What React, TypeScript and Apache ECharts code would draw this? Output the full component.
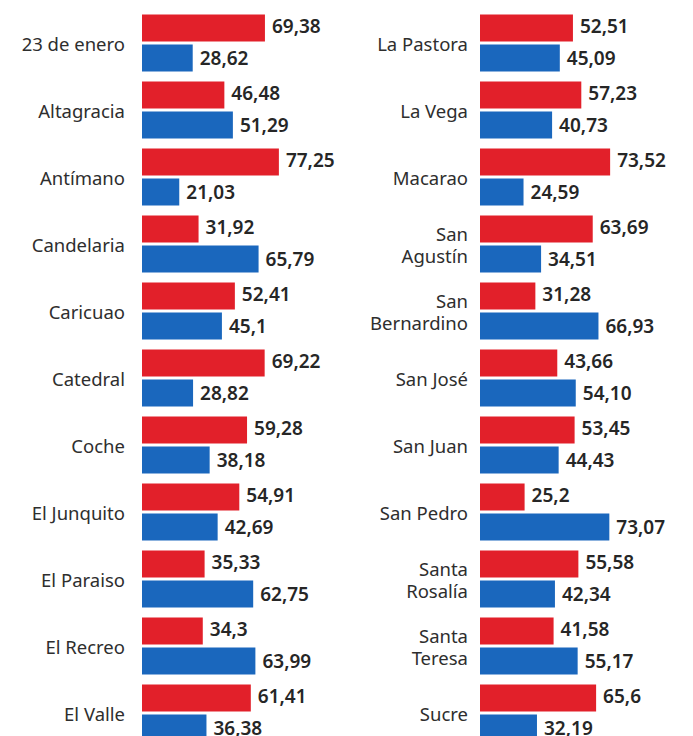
import React, { useEffect, useRef } from "react";
import * as echarts from "echarts";

const leftCategories = [
  "23 de enero", "Altagracia", "Antímano", "Candelaria", "Caricuao", "Catedral",
  "Coche", "El Junquito", "El Paraiso", "El Recreo", "El Valle",
];
const leftRed = [69.38, 46.48, 77.25, 31.92, 52.41, 69.22, 59.28, 54.91, 35.33, 34.3, 61.41];
const leftBlue = [28.62, 51.29, 21.03, 65.79, 45.1, 28.82, 38.18, 42.69, 62.75, 63.99, 36.38];
const leftRedText = ["69,38", "46,48", "77,25", "31,92", "52,41", "69,22", "59,28", "54,91", "35,33", "34,3", "61,41"];
const leftBlueText = ["28,62", "51,29", "21,03", "65,79", "45,1", "28,82", "38,18", "42,69", "62,75", "63,99", "36,38"];

const rightCategories = [
  "La Pastora", "La Vega", "Macarao", "San\nAgustín", "San\nBernardino", "San José",
  "San Juan", "San Pedro", "Santa\nRosalía", "Santa\nTeresa", "Sucre",
];
const rightRed = [52.51, 57.23, 73.52, 63.69, 31.28, 43.66, 53.45, 25.2, 55.58, 41.58, 65.6];
const rightBlue = [45.09, 40.73, 24.59, 34.51, 66.93, 54.1, 44.43, 73.07, 42.34, 55.17, 32.19];
const rightRedText = ["52,51", "57,23", "73,52", "63,69", "31,28", "43,66", "53,45", "25,2", "55,58", "41,58", "65,6"];
const rightBlueText = ["45,09", "40,73", "24,59", "34,51", "66,93", "54,10", "44,43", "73,07", "42,34", "55,17", "32,19"];

const RED = "#E2202A";
const BLUE = "#1A67BD";
const FONT = "Noto Sans";

export default function App() {
  const ref = useRef<HTMLDivElement>(null);
  useEffect(() => {
    document.body.style.margin = "0";
    const chart = echarts.init(ref.current!, null, { renderer: "svg" });
    const valueLabel = (texts: string[], dy: number) => ({
      show: true,
      position: "right",
      distance: 7,
      offset: [0, dy],
      color: "#262626",
      fontFamily: FONT,
      fontWeight: 600,
      fontSize: 19,
      formatter: (p: any) => texts[p.dataIndex],
    });
    const catAxis = (gridIndex: number, data: string[], margin: number) => ({
      type: "category",
      gridIndex,
      data,
      inverse: true,
      axisLine: { show: false },
      axisTick: { show: false },
      splitLine: { show: false },
      axisLabel: {
        color: "#2e2e2e",
        fontFamily: FONT,
        fontSize: 18.5,
        margin,
        lineHeight: 22,
      },
    });
    const valAxis = (gridIndex: number) => ({
      type: "value",
      gridIndex,
      min: 0,
      max: 100,
      show: false,
    });
    const barCommon = { barWidth: 27, barGap: "11%" };
    chart.setOption({
      animation: false,
      backgroundColor: "#ffffff",
      grid: [
        { left: 142, top: 9.5, width: 177.2, height: 737, outerBoundsMode: "none" },
        { left: 480, top: 9.5, width: 177, height: 737, outerBoundsMode: "none" },
      ],
      xAxis: [valAxis(0), valAxis(1)],
      yAxis: [catAxis(0, leftCategories, 17), catAxis(1, rightCategories, 12)],
      series: [
        { type: "bar", xAxisIndex: 0, yAxisIndex: 0, data: leftRed, itemStyle: { color: RED }, label: valueLabel(leftRedText, -2), ...barCommon },
        { type: "bar", xAxisIndex: 0, yAxisIndex: 0, data: leftBlue, itemStyle: { color: BLUE }, label: valueLabel(leftBlueText, 0), ...barCommon },
        { type: "bar", xAxisIndex: 1, yAxisIndex: 1, data: rightRed, itemStyle: { color: RED }, label: valueLabel(rightRedText, -2), ...barCommon },
        { type: "bar", xAxisIndex: 1, yAxisIndex: 1, data: rightBlue, itemStyle: { color: BLUE }, label: valueLabel(rightBlueText, 0), ...barCommon },
      ],
    });
    return () => chart.dispose();
  }, []);
  return (
    <div style={{ width: 693, height: 736, overflow: "hidden", background: "#fff" }}>
      <div ref={ref} style={{ width: 693, height: 760 }} />
    </div>
  );
}
